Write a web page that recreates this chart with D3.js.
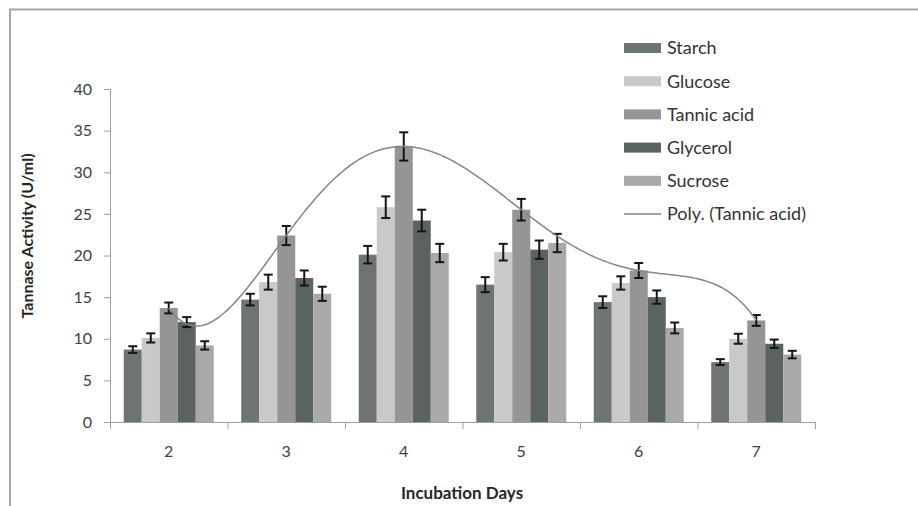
<!DOCTYPE html>
<html>
<head>
<meta charset="utf-8">
<script src="https://cdn.jsdelivr.net/npm/d3@7"></script>
<style>
  body { margin: 0; background: #fff; }
  text { font-family: Lato, "Open Sans", sans-serif; }
</style>
</head>
<body>
<div id="chart"></div>
<script>
// Data
var days = ["2", "3", "4", "5", "6", "7"];
var seriesNames = ["Starch", "Glucose", "Tannic acid", "Glycerol", "Sucrose"];

var starch     = [8.7, 14.7, 20.1, 16.5, 14.4, 7.2];
var glucose    = [10.1, 16.8, 25.8, 20.4, 16.7, 10.0];
var tannicAcid = [13.7, 22.4, 33.1, 25.5, 18.2, 12.2];
var glycerol   = [12.0, 17.3, 24.2, 20.7, 15.0, 9.4];
var sucrose    = [9.2, 15.4, 20.3, 21.5, 11.3, 8.1];

var starchErr     = [0.4, 0.7, 1.05, 0.9, 0.7, 0.35];
var glucoseErr    = [0.55, 0.9, 1.3, 1.0, 0.8, 0.6];
var tannicAcidErr = [0.65, 1.15, 1.7, 1.3, 0.9, 0.65];
var glycerolErr   = [0.6, 0.9, 1.3, 1.1, 0.8, 0.5];
var sucroseErr    = [0.5, 0.85, 1.1, 1.1, 0.65, 0.45];

var yTicks = [0, 5, 10, 15, 20, 25, 30, 35, 40];

var values = [starch, glucose, tannicAcid, glycerol, sucrose];
var errors = [starchErr, glucoseErr, tannicAcidErr, glycerolErr, sucroseErr];
var colors = ["#6e7373", "#c9c9c9", "#959595", "#5a6362", "#a9a9a9"];

var W = 918, H = 506;
var plotLeft = 110, plotRight = 815, plotTop = 89, plotBottom = 422;

var svg = d3.select("#chart")
    .append("svg")
    .attr("width", W)
    .attr("height", H);

// Outer frame (top and left only)
svg.append("line").attr("x1", 9).attr("x2", W).attr("y1", 9.5).attr("y2", 9.5)
    .style("stroke", "#a6a6a6").style("stroke-width", 2);
svg.append("line").attr("x1", 10).attr("x2", 10).attr("y1", 9).attr("y2", H)
    .style("stroke", "#a6a6a6").style("stroke-width", 2);

// Scales
var x0 = d3.scaleBand()
    .domain(days)
    .range([plotLeft, plotRight])
    .paddingInner(0.234)
    .paddingOuter(0.117);

var x1 = d3.scaleBand()
    .domain(seriesNames)
    .range([0, x0.bandwidth()]);

var y = d3.scaleLinear()
    .domain([0, 40])
    .range([plotBottom, plotTop]);

// Y axis
var yAxis = svg.append("g")
    .attr("transform", "translate(" + plotLeft + ",0)")
    .call(d3.axisLeft(y).tickValues(yTicks).tickSize(6).tickPadding(12));
yAxis.select(".domain").style("stroke", "#a0a0a0");
yAxis.selectAll(".tick line").style("stroke", "#a0a0a0");
yAxis.selectAll("text").style("font-size", "16px").style("fill", "#404040")
    .style("font-family", "Lato, sans-serif");

// X axis: labels centered, ticks at category boundaries
var xAxis = svg.append("g")
    .attr("transform", "translate(0," + plotBottom + ")")
    .call(d3.axisBottom(x0).tickSize(0).tickPadding(24));
xAxis.select(".domain").remove();
xAxis.selectAll("text").style("font-size", "16px").style("fill", "#404040")
    .style("font-family", "Lato, sans-serif");

var bounds = d3.range(days.length + 1).map(function(i) { return plotLeft + i * x0.step(); });
svg.append("line").attr("x1", plotLeft).attr("x2", plotRight)
    .attr("y1", plotBottom + 0.5).attr("y2", plotBottom + 0.5)
    .style("stroke", "#a0a0a0");
svg.selectAll(".xtick")
    .data(bounds)
    .enter()
    .append("line")
    .attr("class", "xtick")
    .attr("x1", function(d) { return d + 0.5; })
    .attr("x2", function(d) { return d + 0.5; })
    .attr("y1", plotBottom)
    .attr("y2", plotBottom + 7)
    .style("stroke", "#a0a0a0");

// Flatten bar data
var bars = [];
days.forEach(function(day, i) {
    seriesNames.forEach(function(s, j) {
        bars.push({ day: day, series: s, value: values[j][i], err: errors[j][i], color: colors[j] });
    });
});

// Bars
svg.selectAll(".bar")
    .data(bars)
    .enter()
    .append("rect")
    .attr("class", "bar")
    .attr("x", function(d) { return x0(d.day) + x1(d.series); })
    .attr("y", function(d) { return y(d.value); })
    .attr("width", x1.bandwidth())
    .attr("height", function(d) { return plotBottom - y(d.value); })
    .style("fill", function(d) { return d.color; });

// Error bars
var eb = svg.selectAll(".err")
    .data(bars)
    .enter()
    .append("g")
    .attr("class", "err")
    .attr("transform", function(d) { return "translate(" + (x0(d.day) + x1(d.series) + x1.bandwidth() / 2) + ",0)"; })
    .style("stroke", "#151515")
    .style("stroke-width", 2);
eb.append("line").attr("x1", 0).attr("x2", 0)
    .attr("y1", function(d) { return y(d.value + d.err); })
    .attr("y2", function(d) { return y(d.value - d.err); });
eb.append("line").attr("x1", -4.5).attr("x2", 4.5)
    .attr("y1", function(d) { return y(d.value + d.err); })
    .attr("y2", function(d) { return y(d.value + d.err); });
eb.append("line").attr("x1", -4.5).attr("x2", 4.5)
    .attr("y1", function(d) { return y(d.value - d.err); })
    .attr("y2", function(d) { return y(d.value - d.err); });

// Polynomial trendline (order 5) through tannic acid values
function poly(t) {
    var n = tannicAcid.length, sum = 0;
    for (var i = 0; i < n; i++) {
        var term = tannicAcid[i];
        for (var k = 0; k < n; k++) {
            if (k !== i) term *= (t - k) / (i - k);
        }
        sum += term;
    }
    return sum;
}
var cx0 = x0(days[0]) + x1("Tannic acid") + x1.bandwidth() / 2;
var trend = d3.range(0, days.length - 1 + 0.0001, 0.025).map(function(t) {
    return [cx0 + t * x0.step(), y(poly(t))];
});
svg.append("path")
    .attr("d", d3.line()(trend))
    .style("fill", "none")
    .style("stroke", "#858585")
    .style("stroke-width", 1.5);

// Legend
var legend = svg.append("g").attr("transform", "translate(624,0)");
var legendRows = seriesNames.concat(["Poly. (Tannic acid)"]);
legendRows.forEach(function(name, i) {
    var cy = 48 + i * 33.2;
    if (i < seriesNames.length) {
        legend.append("rect").attr("x", 0).attr("y", cy - 5).attr("width", 37).attr("height", 10)
            .style("fill", colors[i]);
    } else {
        legend.append("line").attr("x1", 0).attr("x2", 37).attr("y1", cy).attr("y2", cy)
            .style("stroke", "#858585").style("stroke-width", 1.5);
    }
    legend.append("text")
        .attr("x", 43)
        .attr("y", cy)
        .attr("dy", "0.35em")
        .style("font-size", "18px")
        .style("fill", "#333")
        .text(name);
});

// Axis titles
svg.append("text")
    .attr("transform", "translate(27,236) rotate(-90)")
    .attr("text-anchor", "middle")
    .attr("dy", "0.35em")
    .style("font-size", "16px")
    .style("font-weight", "bold")
    .style("fill", "#262626")
    .text("Tannase Activity (U/ml)");

svg.append("text")
    .attr("x", 462)
    .attr("y", 493)
    .attr("text-anchor", "middle")
    .attr("dy", "0.35em")
    .style("font-size", "17px")
    .style("font-weight", "bold")
    .style("fill", "#262626")
    .text("Incubation Days");
</script>
</body>
</html>
